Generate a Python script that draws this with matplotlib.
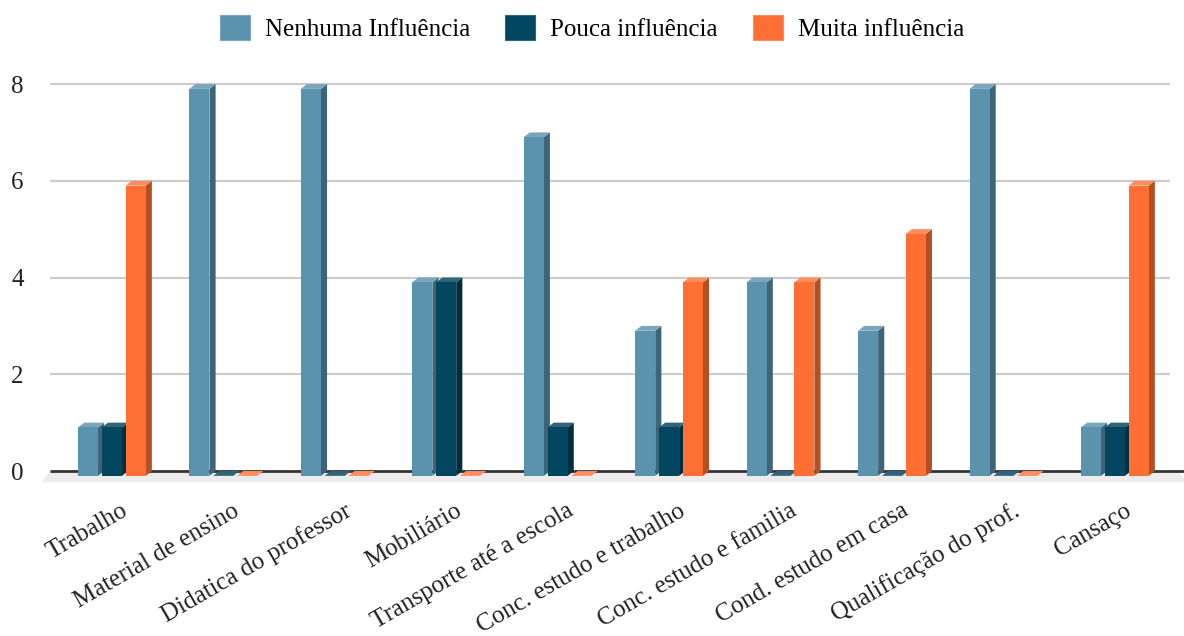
import numpy as np
import matplotlib.pyplot as plt
from matplotlib.patches import Polygon, Patch

categorias = ["Trabalho", "Material de ensino", "Didatica do professor", "Mobiliário",
              "Transporte até a escola", "Conc. estudo e trabalho", "Conc. estudo e familia",
              "Cond. estudo em casa", "Qualificação do prof.", "Cansaço"]
nenhuma = [1, 8, 8, 4, 7, 3, 4, 3, 8, 1]
pouca = [1, 0, 0, 4, 1, 1, 0, 0, 0, 1]
muita = [6, 0, 0, 0, 0, 4, 4, 5, 0, 6]

series = [
    ("Nenhuma Influência", nenhuma, "#5b92ae", "#7aa6bd", "#3e6478"),
    ("Pouca influência", pouca, "#02465f", "#2f6479", "#012f40"),
    ("Muita influência", muita, "#ff6f33", "#ff8c5c", "#b44e23"),
]

plt.rcParams['font.family'] = ['Liberation Serif', 'DejaVu Serif']

fig = plt.figure(figsize=(11.84, 6.36), dpi=100)
ax = fig.add_axes([50 / 1184, 0.2404, 1120 / 1184, 0.6503])

n = len(categorias)
x = np.arange(n)
ax.set_xlim(-0.5, n - 0.45)
ax.set_ylim(-0.25, 8.3)

# pseudo 3D bars: front face, top face and right side
w = 0.18      # front width
pitch = 0.214
dx = 0.055    # depth to the right
dy = 0.1      # depth upwards (data units)

# floor band under the baseline
floor = Polygon([(-0.57, -0.23), (-0.5, 0), (n - 0.38, 0), (n - 0.3, -0.23)],
                closed=True, facecolor="#ececec", edgecolor="none", zorder=1,
                clip_on=False)
ax.add_patch(floor)

for y in [2, 4, 6, 8]:
    ax.axhline(y, color="#cccccc", lw=1.6, zorder=0)
ax.plot([-0.5, n - 0.3], [0, 0], color="#333333", lw=2, zorder=2,
        solid_capstyle="butt", clip_on=False)

for j, (nome, vals, c_front, c_top, c_side) in enumerate(series):
    for i, v in enumerate(vals):
        x0 = x[i] + 0.055 + (j - 1) * pitch - w / 2
        x1 = x0 + w
        front = Polygon([(x0, -dy), (x1, -dy), (x1, v - dy), (x0, v - dy)],
                        facecolor=c_front, edgecolor="none", zorder=3 + j)
        top = Polygon([(x0, v - dy), (x0 + dx, v), (x1 + dx, v), (x1, v - dy)],
                      facecolor=c_top, edgecolor="none", zorder=3 + j)
        side = Polygon([(x1, -dy), (x1 + dx, 0), (x1 + dx, v), (x1, v - dy)],
                       facecolor=c_side, edgecolor="none", zorder=3 + j)
        for p in (side, top, front):
            ax.add_patch(p)

for s in ax.spines.values():
    s.set_visible(False)

ax.set_yticks([0, 2, 4, 6, 8])
ax.tick_params(axis="y", length=0, pad=19, labelsize=18, labelcolor="#222222")
ax.set_xticks(x + 0.135)
ax.set_xticklabels(categorias, rotation=30, ha="right", rotation_mode="anchor",
                   fontsize=18, color="#222222")
ax.tick_params(axis="x", length=0, pad=12)

handles = [Patch(facecolor=s[2], edgecolor=s[3], linewidth=0.8, joinstyle="round")
           for s in series]
fig.legend(handles, [s[0] for s in series], loc="upper center", bbox_to_anchor=(0.5, 1.012),
           ncol=3, frameon=False, fontsize=18, handlelength=1.2, handleheight=1.2,
           handletextpad=0.6, columnspacing=1.4)

fig.savefig("out.png", dpi=100, facecolor="white")
